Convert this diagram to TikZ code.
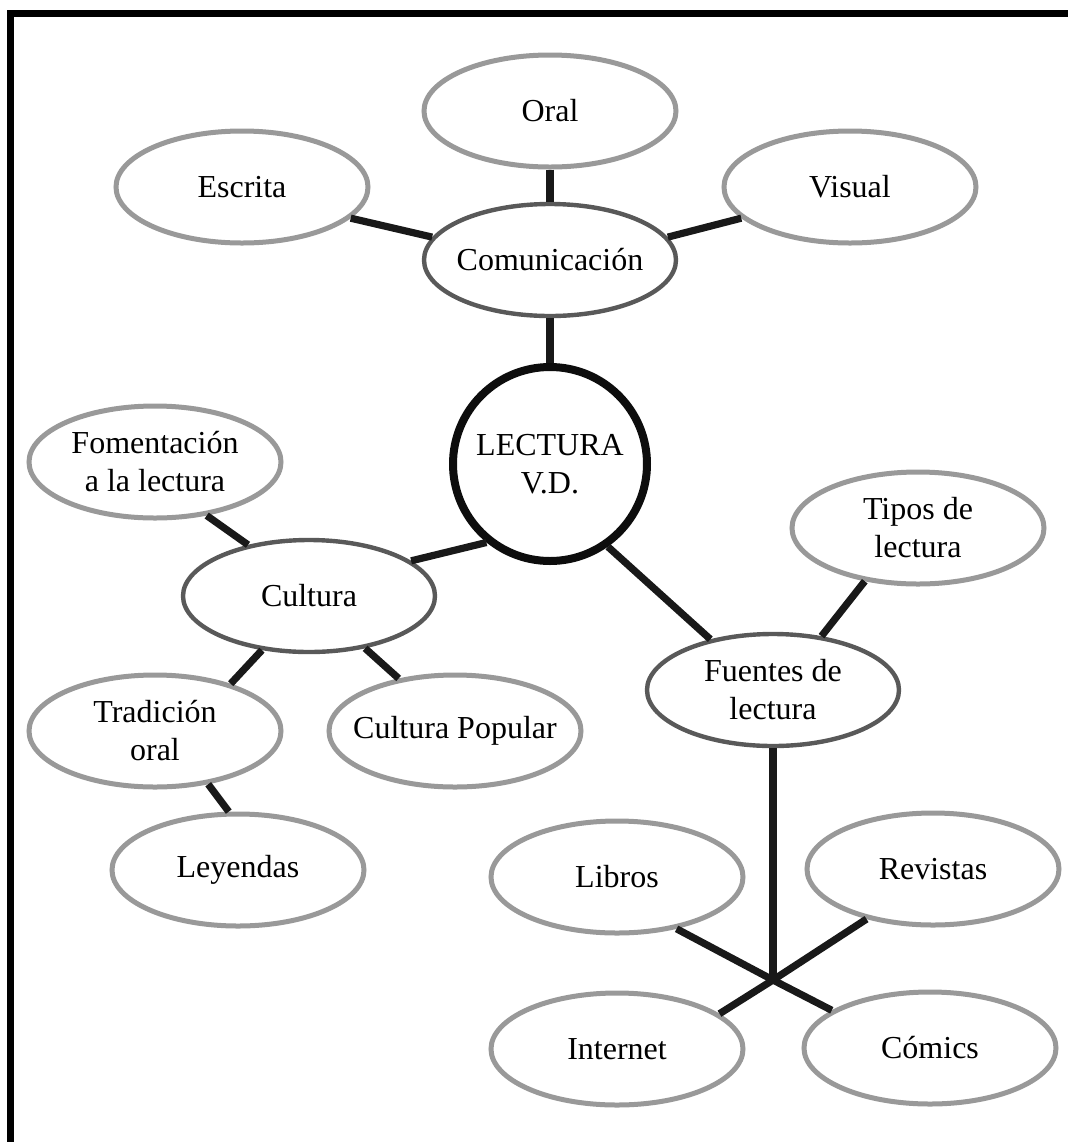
\documentclass[tikz,border=0pt]{standalone}
\usepackage{fontspec}
\setmainfont{Liberation Serif}
\usetikzlibrary{shapes.geometric}
\begin{document}
\begin{tikzpicture}[x=0.5pt,y=-0.5pt,
  leaf/.style={ellipse,draw=black!40,line width=2.5pt,fill=white,
    minimum width=126pt,minimum height=56pt,inner xsep=-15pt,inner ysep=0pt,
    align=center,font=\fontsize{16}{19}\selectfont},
  branch/.style={leaf,draw=black!65,line width=2.2pt},
  core/.style={circle,draw=black!95,line width=4pt,fill=white,minimum size=97pt,
    inner sep=0pt,align=center,font=\fontsize{16}{19}\selectfont},
  link/.style={line width=3.6pt,black!90}]
  \useasboundingbox (0,0) rectangle (1068,1142);
  \clip (0,0) rectangle (1068,1142);
  \fill[white] (0,0) rectangle (1068,1142);
  \draw[line width=3.5pt] (10.5,13.5) rectangle (1200,1300);
  % centre and first ring
  \node[core] (lectura) at (550,464) {LECTURA\\V.D.};
  \node[branch] (comunicacion) at (550,260) {Comunicación};
  \node[branch] (cultura) at (309,596) {Cultura};
  \node[branch] (fuentes) at (773,690) {Fuentes de\\lectura};
  % outer ring
  \node[leaf] (oral) at (550,111) {Oral};
  \node[leaf] (escrita) at (242,187) {Escrita};
  \node[leaf] (visual) at (850,187) {Visual};
  \node[leaf] (fomentacion) at (155,462) {Fomentación\\a la lectura};
  \node[leaf] (tradicion) at (155,731) {Tradición\\oral};
  \node[leaf] (popular) at (455,731) {Cultura Popular};
  \node[leaf] (leyendas) at (238,870) {Leyendas};
  \node[leaf] (tipos) at (918,528) {Tipos de\\lectura};
  \node[leaf] (libros) at (617,877) {Libros};
  \node[leaf] (revistas) at (933,869) {Revistas};
  \node[leaf] (internet) at (617,1049) {Internet};
  \node[leaf] (comics) at (930,1048) {Cómics};
  \coordinate (hub) at (773,980);
  % connectors
  \draw[link] (oral.south) -- (comunicacion.north);
  \draw[link] (escrita.344) -- (comunicacion.169);
  \draw[link] (visual.196) -- (comunicacion.11);
  \draw[link] (comunicacion.south) -- (lectura.north);
  \draw[link] (lectura.231) -- (cultura.19);
  \draw[link] (lectura.305) -- (fuentes.141);
  \draw[link] (fomentacion.314) -- (cultura.140);
  \draw[link] (cultura.229) -- (tradicion.32);
  \draw[link] (cultura.317) -- (popular.137);
  \draw[link] (tradicion.315) -- (leyendas.99);
  \draw[link] (fuentes.48) -- (tipos.225);
  \draw[link] (fuentes.south) -- (hub);
  \draw[link] (libros.319) -- (hub) -- (comics.159);
  \draw[link] (revistas.217) -- (hub) -- (internet.19);
\end{tikzpicture}
\end{document}
